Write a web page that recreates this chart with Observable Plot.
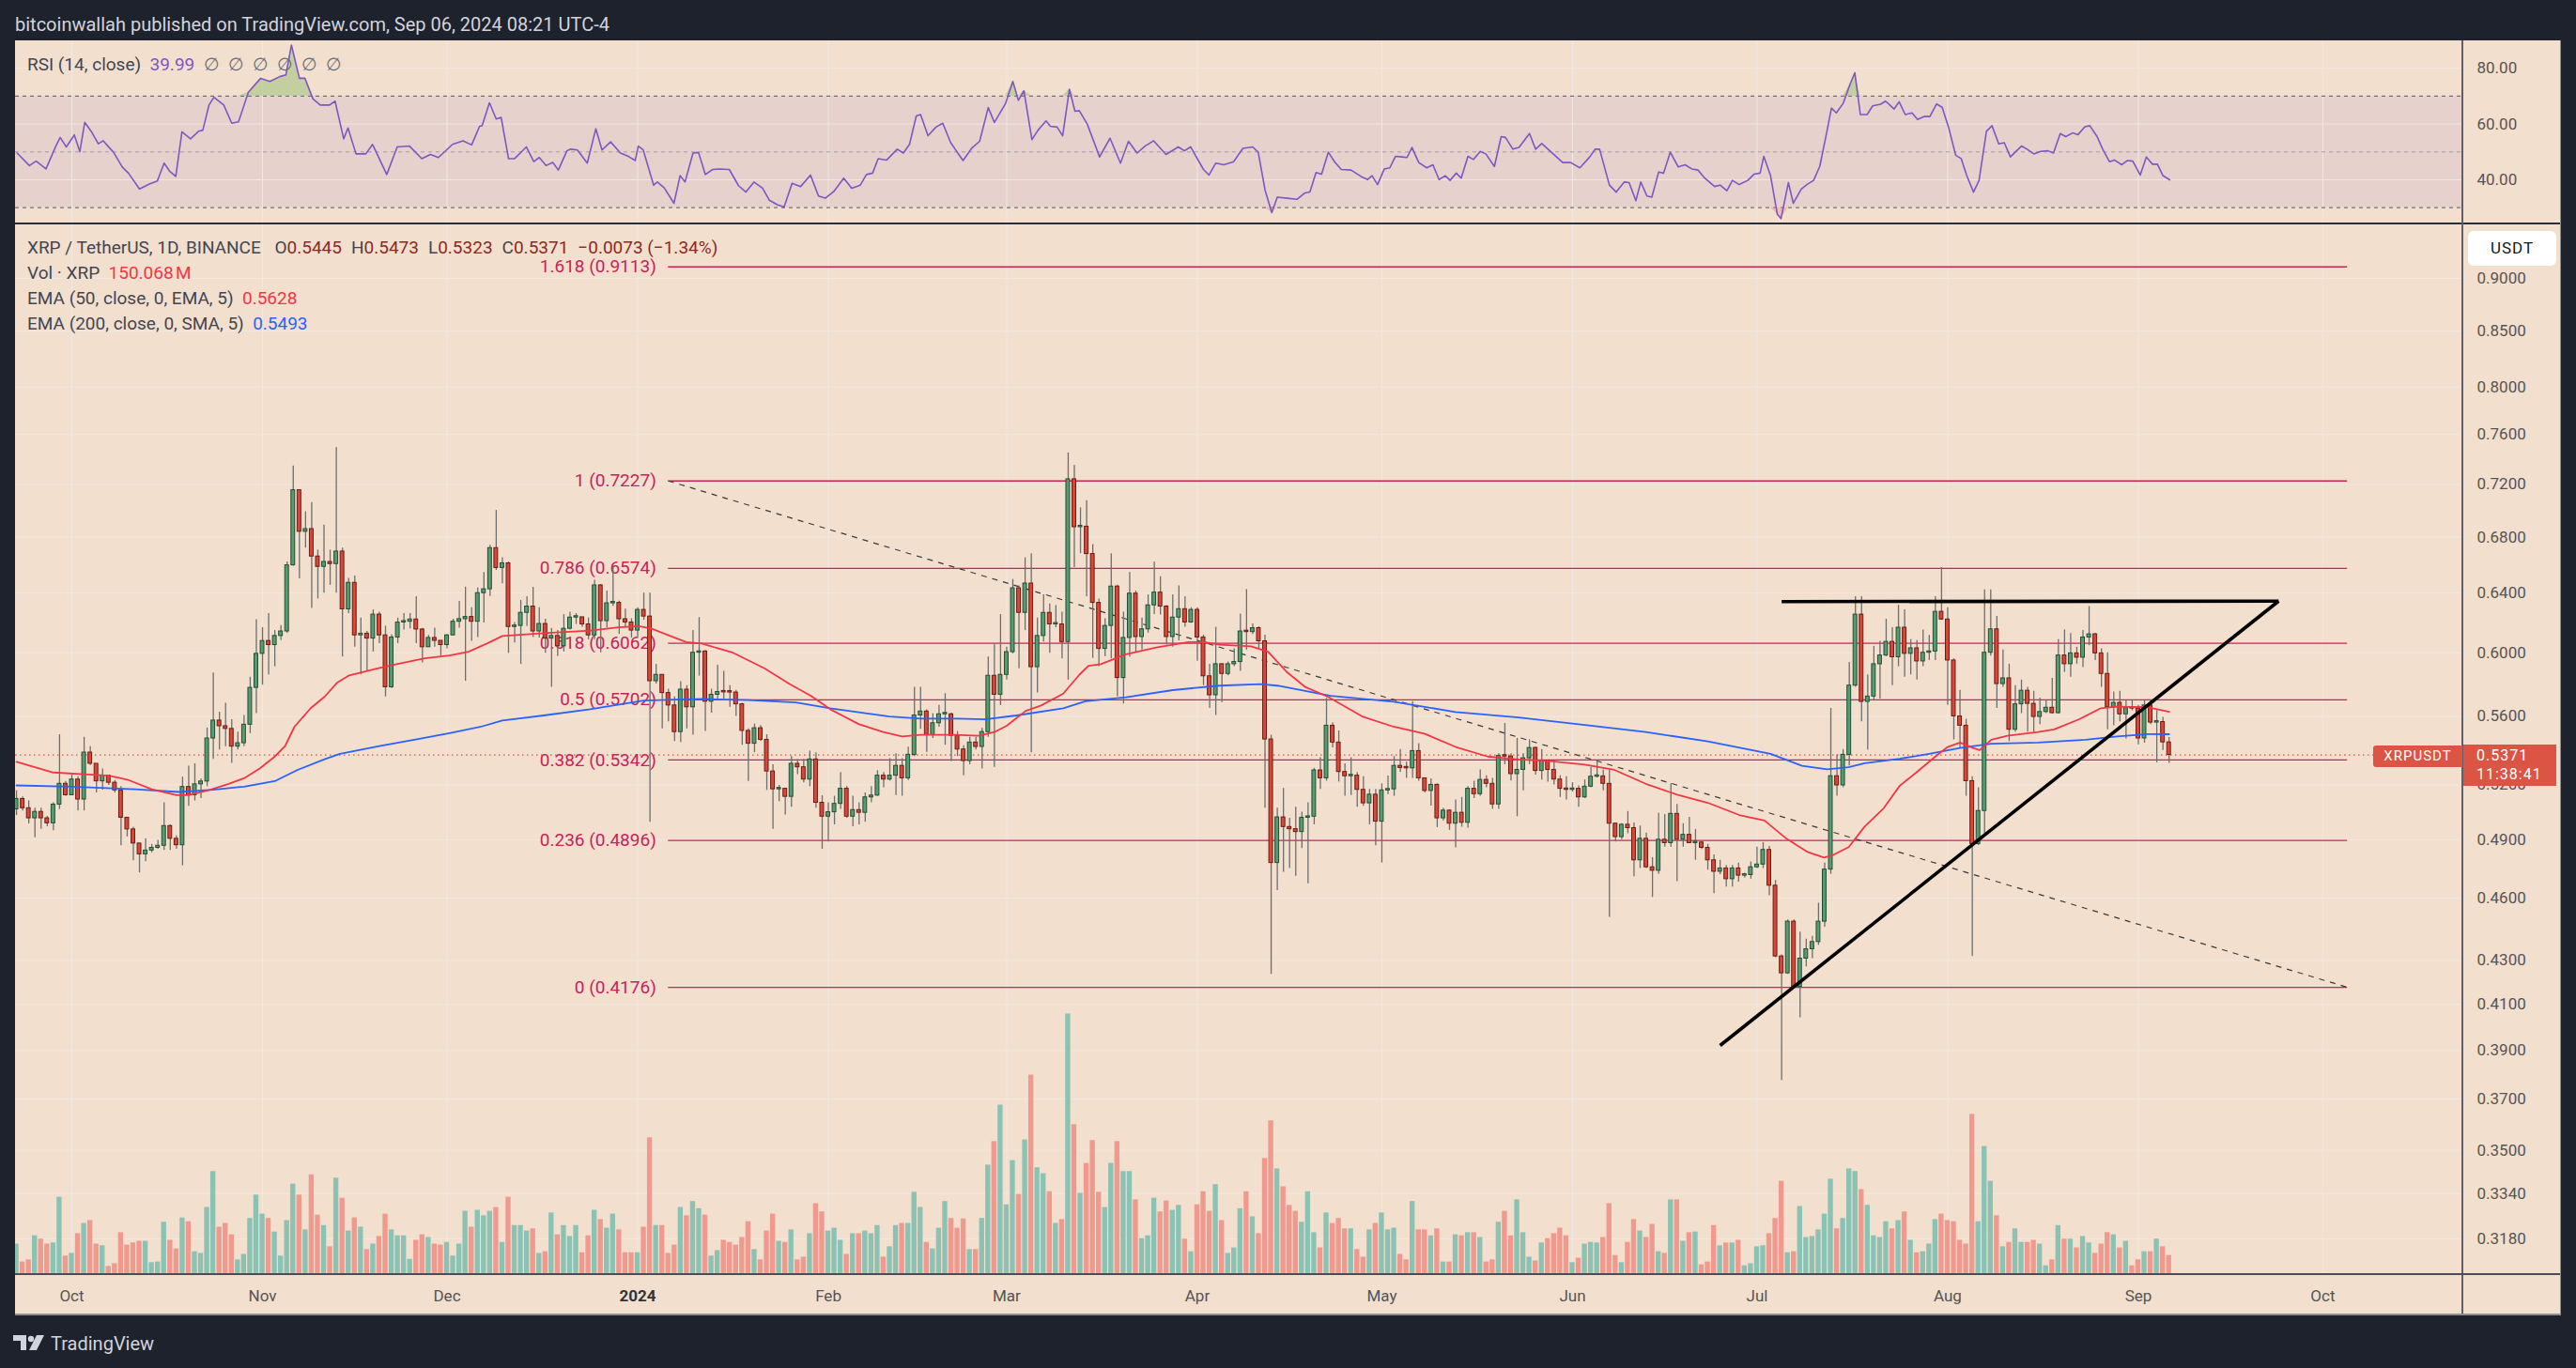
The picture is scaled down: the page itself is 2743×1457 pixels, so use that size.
<!DOCTYPE html>
<html>
<head>
<meta charset="utf-8">
<script src="https://cdn.jsdelivr.net/npm/d3@7"></script>
<script src="https://cdn.jsdelivr.net/npm/@observablehq/plot@0.6"></script>
<style>
  html, body { margin:0; padding:0; background:#1e222d; }
  #root { position:relative; width:2743px; height:1457px; background:#1e222d; overflow:hidden;
          font-family: Roboto, "Noto Sans", "Liberation Sans", sans-serif; }
  .abs { position:absolute; }
  .layer svg { display:block; max-width:none; }
  .leg { position:absolute; left:29px; height:26px; line-height:26px; font-size:19px; color:#434651; white-space:nowrap; }
  .leg .v { color:#8c2a1e; }
  .leg .sp { display:inline-block; width:10px; }
</style>
</head>
<body>
<div id="root"></div>
<script>
// ================= DATA =================
const ORIGIN = "2023-10-01";          // day 0
const firstCandleDay = -9;            // first candle: 2023-09-22
const firstOpen = 0.5064;

const closes = [
0.5121,0.5070,0.5015,0.5050,0.5015,0.4988,0.5090,0.5206,0.5142,0.5230,
0.5118,0.5385,0.5320,0.5220,0.5252,0.5212,0.5169,0.5018,0.4955,0.4880,
0.4823,0.4843,0.4857,0.4868,0.4973,0.4905,0.4871,0.5188,0.5142,0.5203,
0.5219,0.5468,0.5575,0.5541,0.5525,0.5420,0.5440,0.5550,0.5776,0.5993,
0.6077,0.6050,0.6110,0.6140,0.6596,0.7155,0.6840,0.6860,0.6659,0.6585,
0.6620,0.6605,0.6695,0.6289,0.6472,0.6114,0.6125,0.6093,0.6253,0.6114,
0.5780,0.6100,0.6200,0.6205,0.6220,0.6153,0.6036,0.6097,0.6078,0.6050,
0.6114,0.6205,0.6222,0.6237,0.6205,0.6400,0.6427,0.6720,0.6577,0.6610,
0.6170,0.6177,0.6265,0.6308,0.6140,0.6190,0.6093,0.6110,0.6042,0.6158,
0.6233,0.6235,0.6187,0.6114,0.6454,0.6209,0.6330,0.6333,0.6222,0.6200,
0.6146,0.6285,0.6240,0.5818,0.5858,0.5744,0.5667,0.5506,0.5765,0.5656,
0.6000,0.6008,0.5690,0.5733,0.5750,0.5748,0.5747,0.5674,0.5513,0.5437,
0.5529,0.5460,0.5276,0.5175,0.5178,0.5133,0.5320,0.5300,0.5230,0.5345,
0.5100,0.5024,0.5048,0.5094,0.5178,0.5024,0.5060,0.5045,0.5130,0.5140,
0.5252,0.5230,0.5252,0.5308,0.5237,0.5372,0.5606,0.5630,0.5488,0.5559,
0.5613,0.5613,0.5484,0.5403,0.5336,0.5444,0.5418,0.5506,0.5852,0.5733,
0.5858,0.6004,0.6434,0.6265,0.6467,0.5907,0.6110,0.6265,0.6187,0.6187,
0.6070,0.7240,0.6874,0.6878,0.6677,0.6333,0.6025,0.6177,0.6446,0.5838,
0.6097,0.6397,0.6103,0.6154,0.6316,0.6404,0.6308,0.6103,0.6233,0.6290,
0.6200,0.6285,0.6100,0.5849,0.5730,0.5926,0.5864,0.5926,0.5940,0.6140,
0.6136,0.6162,0.6075,0.5462,0.4778,0.5020,0.4968,0.4956,0.4941,0.5018,
0.5024,0.5282,0.5237,0.5544,0.5444,0.5273,0.5249,0.5252,0.5172,0.5097,
0.5145,0.4997,0.5169,0.5175,0.5308,0.5296,0.5294,0.5394,0.5237,0.5166,
0.5200,0.5015,0.5057,0.4986,0.5045,0.4991,0.5178,0.5148,0.5228,0.5206,
0.5091,0.5365,0.5362,0.5261,0.5285,0.5352,0.5412,0.5279,0.5336,0.5285,
0.5230,0.5178,0.5172,0.5178,0.5130,0.5190,0.5246,0.5248,0.5206,0.4986,
0.4914,0.4980,0.4962,0.4792,0.4905,0.4756,0.4738,0.4900,0.4882,0.5039,
0.4900,0.4926,0.4882,0.4885,0.4857,0.4792,0.4733,0.4750,0.4695,0.4750,
0.4713,0.4716,0.4756,0.4770,0.4846,0.4662,0.4318,0.4240,0.4484,0.4178,
0.4308,0.4352,0.4386,0.4484,0.4744,0.5249,0.5197,0.5372,0.5790,0.6253,
0.5689,0.5722,0.5926,0.5982,0.6071,0.5971,0.6165,0.5993,0.6029,0.5944,
0.6000,0.6008,0.6272,0.6220,0.5950,0.5600,0.5544,0.5221,0.4877,0.5055,
0.6000,0.6154,0.5800,0.5836,0.5520,0.5674,0.5758,0.5677,0.5597,0.5627,
0.5653,0.5620,0.5982,0.5926,0.5996,0.5968,0.6100,0.6121,0.5996,0.5864,
0.5656,0.5683,0.5613,0.5650,0.5648,0.5468,0.5667,0.5563,0.5566,0.5445,
0.5371];

const highs = [
0.5167,0.5133,0.5110,0.5070,0.5070,0.5025,0.5100,0.5490,0.5220,0.5258,
0.5246,0.5475,0.5420,0.5320,0.5290,0.5252,0.5225,0.5190,0.5018,0.4967,
0.4880,0.4905,0.4875,0.4897,0.5100,0.4980,0.4920,0.5244,0.5306,0.5320,
0.5234,0.5530,0.5870,0.5626,0.5680,0.5580,0.5506,0.5606,0.5843,0.6218,
0.6165,0.6260,0.6146,0.6180,0.6620,0.7345,0.7155,0.6990,0.7060,0.6705,
0.6890,0.6705,0.7493,0.6720,0.6504,0.6520,0.6230,0.6140,0.6285,0.6270,
0.6175,0.6118,0.6230,0.6260,0.6260,0.6375,0.6160,0.6114,0.6162,0.6078,
0.6120,0.6222,0.6343,0.6442,0.6300,0.6436,0.6545,0.6740,0.7000,0.6650,
0.6620,0.6200,0.6350,0.6375,0.6440,0.6300,0.6222,0.6160,0.6146,0.6253,
0.6270,0.6260,0.6235,0.6230,0.6490,0.6460,0.6415,0.6580,0.6345,0.6290,
0.6225,0.6300,0.6400,0.6400,0.5926,0.5860,0.5768,0.5720,0.5815,0.5790,
0.6146,0.6233,0.6015,0.5768,0.5920,0.5880,0.5790,0.5760,0.5680,0.5525,
0.5554,0.5545,0.5490,0.5315,0.5197,0.5175,0.5362,0.5345,0.5345,0.5394,
0.5384,0.5139,0.5100,0.5136,0.5270,0.5190,0.5136,0.5100,0.5155,0.5190,
0.5280,0.5270,0.5350,0.5378,0.5350,0.5417,0.5780,0.5780,0.5640,0.5617,
0.5667,0.5740,0.5620,0.5510,0.5425,0.5475,0.5475,0.5528,0.5972,0.6053,
0.6253,0.6036,0.6496,0.6450,0.6650,0.6680,0.6230,0.6388,0.6325,0.6315,
0.6270,0.7450,0.7350,0.7020,0.7075,0.6745,0.6360,0.6225,0.6680,0.6455,
0.6270,0.6545,0.6415,0.6230,0.6388,0.6620,0.6515,0.6315,0.6388,0.6450,
0.6375,0.6300,0.6300,0.6115,0.5926,0.6168,0.5930,0.5940,0.6025,0.6257,
0.6425,0.6190,0.6172,0.6115,0.5487,0.5070,0.5180,0.5015,0.5076,0.5048,
0.5100,0.5294,0.5355,0.5712,0.5560,0.5513,0.5320,0.5355,0.5270,0.5246,
0.5175,0.5175,0.5206,0.5250,0.5362,0.5403,0.5330,0.5690,0.5437,0.5237,
0.5234,0.5206,0.5070,0.5060,0.5115,0.5130,0.5190,0.5221,0.5285,0.5252,
0.5237,0.5378,0.5557,0.5378,0.5468,0.5378,0.5460,0.5418,0.5403,0.5336,
0.5336,0.5252,0.5246,0.5212,0.5194,0.5228,0.5300,0.5336,0.5285,0.5282,
0.4986,0.4986,0.5052,0.4990,0.4973,0.4935,0.4806,0.5042,0.5036,0.5206,
0.5091,0.4986,0.5020,0.4955,0.4890,0.4875,0.4820,0.4792,0.4765,0.4765,
0.4778,0.4725,0.4783,0.4861,0.4885,0.4865,0.4689,0.4325,0.4492,0.4492,
0.4433,0.4400,0.4413,0.4575,0.4778,0.5649,0.5372,0.5403,0.5937,0.6375,
0.6375,0.5858,0.6042,0.6075,0.6222,0.6165,0.6316,0.6285,0.6085,0.6080,
0.6150,0.6114,0.6375,0.6580,0.6300,0.5960,0.5761,0.5583,0.5246,0.5184,
0.6422,0.6422,0.6241,0.6018,0.5926,0.5790,0.5825,0.5780,0.5755,0.5712,
0.5700,0.5836,0.6085,0.6150,0.6126,0.6036,0.6146,0.6308,0.6128,0.6025,
0.6000,0.5750,0.5755,0.5700,0.5700,0.5667,0.5694,0.5700,0.5635,0.5594,
0.5473];

const lows = [
0.5030,0.5055,0.4985,0.4910,0.4955,0.4970,0.4948,0.5063,0.5136,0.5140,
0.5055,0.5055,0.5310,0.5155,0.5170,0.5197,0.5155,0.4868,0.4915,0.4790,
0.4727,0.4785,0.4831,0.4850,0.4843,0.4843,0.4850,0.4764,0.5080,0.5110,
0.5124,0.5190,0.5346,0.5400,0.5420,0.5323,0.5400,0.5420,0.5497,0.5617,
0.5793,0.5858,0.5910,0.6080,0.6127,0.6590,0.6500,0.6720,0.6295,0.6360,
0.6400,0.6455,0.6400,0.5972,0.6260,0.6036,0.5858,0.5880,0.6005,0.6060,
0.5720,0.5773,0.6060,0.6150,0.6157,0.6060,0.5935,0.6046,0.6036,0.5978,
0.6025,0.6114,0.6162,0.5818,0.6075,0.6100,0.6196,0.6378,0.6560,0.6465,
0.5996,0.6064,0.5925,0.6173,0.6100,0.6097,0.5996,0.5780,0.5975,0.6005,
0.6150,0.6187,0.6168,0.6085,0.6085,0.6000,0.6162,0.6310,0.6121,0.6168,
0.6097,0.6093,0.6215,0.4994,0.5800,0.5525,0.5568,0.5450,0.5444,0.5525,
0.5488,0.5850,0.5510,0.5620,0.5700,0.5705,0.5656,0.5600,0.5428,0.5219,
0.5384,0.5450,0.5169,0.4955,0.5106,0.5033,0.5076,0.5258,0.5212,0.5190,
0.5070,0.4850,0.4888,0.4980,0.5064,0.5015,0.4970,0.4980,0.4994,0.5100,
0.5136,0.5184,0.5222,0.5140,0.5136,0.5225,0.5362,0.5522,0.5387,0.5468,
0.5535,0.5428,0.5333,0.5362,0.5252,0.5315,0.5400,0.5290,0.5475,0.5300,
0.5667,0.5825,0.5993,0.5897,0.6146,0.5384,0.5744,0.6070,0.5996,0.6165,
0.5960,0.5825,0.6580,0.6680,0.6375,0.5964,0.5910,0.5975,0.5960,0.5721,
0.5676,0.5972,0.6000,0.6018,0.6130,0.6253,0.6250,0.6050,0.6036,0.6078,
0.6168,0.6195,0.5945,0.5790,0.5649,0.5606,0.5685,0.5852,0.5910,0.5880,
0.6018,0.6120,0.6029,0.5070,0.4235,0.4638,0.4730,0.4750,0.4710,0.4853,
0.4672,0.4980,0.5175,0.5221,0.5412,0.5216,0.5136,0.5140,0.5076,0.5080,
0.4980,0.4868,0.4778,0.5145,0.5136,0.5270,0.5237,0.5237,0.5221,0.5155,
0.5082,0.4965,0.5000,0.4950,0.4857,0.4967,0.4962,0.5124,0.5136,0.5184,
0.5064,0.5064,0.5315,0.5222,0.5024,0.5166,0.5315,0.5255,0.5228,0.5216,
0.5200,0.5130,0.5115,0.5160,0.5076,0.5124,0.5184,0.5240,0.5166,0.4505,
0.4888,0.4900,0.4932,0.4707,0.4750,0.4750,0.4603,0.4720,0.4861,0.4861,
0.4683,0.4861,0.4882,0.4792,0.4848,0.4741,0.4622,0.4718,0.4655,0.4655,
0.4680,0.4700,0.4695,0.4750,0.4750,0.4611,0.4312,0.3775,0.4235,0.4170,
0.4040,0.4270,0.4308,0.4370,0.4457,0.4720,0.5136,0.5184,0.5308,0.5780,
0.5568,0.5400,0.5700,0.5707,0.5975,0.5790,0.5910,0.5843,0.5858,0.5825,
0.5910,0.5950,0.5950,0.6215,0.5667,0.5460,0.5412,0.5136,0.4318,0.4870,
0.4923,0.5978,0.5649,0.5780,0.5450,0.5506,0.5617,0.5506,0.5506,0.5550,
0.5617,0.5615,0.5615,0.5874,0.5843,0.5926,0.5904,0.6046,0.5950,0.5780,
0.5520,0.5544,0.5568,0.5465,0.5635,0.5431,0.5440,0.5550,0.5326,0.5397,
0.5323];

// volume in millions of XRP
const volumesM = [
240,99,116,305,279,240,249,609,146,167,
322,403,425,240,227,64,86,330,232,249,
262,262,94,99,412,270,202,446,416,180,
167,528,811,373,403,313,116,159,442,626,
476,442,335,146,425,712,626,352,785,468,
386,219,759,601,343,446,373,197,240,300,
476,352,305,305,120,270,313,292,240,232,
253,146,240,498,373,506,463,498,528,253,
609,386,386,343,360,167,180,485,313,386,
300,386,172,305,506,433,365,476,352,172,
172,172,373,1077,386,386,167,232,528,463,
575,519,468,146,189,270,253,232,292,416,
197,116,343,476,262,253,352,116,137,322,
558,493,343,365,270,159,322,322,343,322,
386,137,219,386,403,403,648,528,253,202,
365,575,442,365,438,197,197,442,862,1047,
1334,549,897,631,1060,1570,841,794,652,403,
433,2051,1180,639,875,1055,648,528,875,1047,
811,811,588,283,305,601,493,579,506,545,
279,180,549,652,498,708,425,167,210,519,
652,455,322,914,1210,832,691,545,498,412,
652,330,210,485,403,442,360,360,197,137,
352,403,485,352,365,159,116,575,352,352,
305,360,99,99,313,305,330,330,292,99,
116,412,498,305,588,330,137,107,249,283,
322,365,305,94,129,240,253,249,292,558,
150,94,253,433,343,292,395,180,167,588,
588,262,330,335,77,99,386,227,249,249,
270,69,86,219,227,322,442,734,172,180,
536,292,300,352,476,751,360,442,832,811,
669,545,305,292,416,360,425,493,270,172,
180,240,433,476,425,416,270,240,1261,416,
1008,734,463,219,253,360,253,253,270,240,
69,116,386,279,279,210,300,249,167,240,
330,313,210,262,69,116,180,180,279,219,
150.068];

// [day offset from ORIGIN, value]
const ema50 = [[-9,0.5331],[-3,0.527],[2,0.526],[6,0.5252],[9,0.523],[13,0.5175],[17,0.5142],[19,0.5142],[22.5,0.5172],[25.5,0.5206],[28,0.5237],[30.6,0.5294],[33,0.5362],[34.7,0.5425],[36.2,0.5538],[38.8,0.5649],[41.1,0.5721],[43.1,0.5807],[45.1,0.5855],[50.2,0.5904],[52.8,0.5926],[57.4,0.5964],[61.4,0.5982],[64.5,0.6007],[67.5,0.606],[70,0.611],[76.7,0.6128],[84.3,0.6146],[88.9,0.6168],[92.2,0.6175],[94.3,0.6158],[97.3,0.611],[99.9,0.607],[102.4,0.606],[107.5,0.6],[112.6,0.59],[116.7,0.58],[120.2,0.5726],[123.3,0.5644],[127.9,0.5554],[131.9,0.5506],[135,0.548],[138,0.549],[143.4,0.549],[147.5,0.5484],[150,0.5506],[152,0.5544],[155.1,0.5634],[157.6,0.5667],[161.2,0.574],[163.8,0.5858],[165.3,0.5916],[167.3,0.5926],[171.4,0.599],[176.5,0.6036],[181.6,0.607],[184.1,0.607],[186.6,0.6053],[191.7,0.6042],[194.5,0.6007],[197.6,0.5874],[200.6,0.578],[204.2,0.5721],[209.8,0.56],[214.9,0.5538],[219.9,0.5497],[225,0.5418],[230.2,0.5362],[235.2,0.5345],[240.3,0.5336],[246,0.5315],[250.8,0.5285],[255.9,0.5206],[261,0.5145],[266,0.51],[271.1,0.5033],[275.2,0.5003],[278.8,0.4905],[282.3,0.4834],[284.9,0.4806],[286.4,0.482],[288.9,0.4861],[291.5,0.497],[294.6,0.507],[297.2,0.5195],[299.9,0.527],[303,0.5362],[305,0.5418],[307,0.5444],[309.1,0.5412],[310.2,0.54],[312.1,0.546],[314.7,0.5484],[319.7,0.5506],[322.3,0.5522],[326.4,0.5583],[329.9,0.565],[332.5,0.566],[337.6,0.5656],[341,0.5628]];

const ema200 = [[-9,0.5197],[0,0.519],[10.3,0.5175],[17.4,0.516],[23,0.5172],[28,0.519],[33,0.5221],[36.7,0.5285],[41.1,0.5346],[43.6,0.5378],[50.2,0.5425],[56.3,0.5465],[61.4,0.55],[66.5,0.5538],[70,0.5575],[76.7,0.5606],[84.3,0.5644],[93,0.5697],[102.4,0.5707],[110,0.57],[117.7,0.5686],[123.3,0.565],[132.9,0.56],[138,0.5587],[144,0.5587],[148.5,0.5583],[153.6,0.5606],[161.2,0.565],[164.8,0.5693],[171.4,0.5717],[179,0.5762],[186.6,0.579],[193.3,0.58],[196,0.579],[204.7,0.5726],[214.9,0.569],[225,0.5627],[235.2,0.5594],[246,0.5548],[255.9,0.5506],[266,0.5451],[276.2,0.5378],[281.3,0.5308],[285.4,0.5288],[288.9,0.53],[291.5,0.5323],[297.2,0.5349],[302,0.5378],[307,0.5412],[312.1,0.5437],[319.7,0.5444],[327.4,0.546],[332.5,0.548],[337.6,0.5494],[341,0.5493]];

const rsi14 = [[-8.9,49.6],[-6.9,45.1],[-5.8,46.7],[-4.2,43.9],[-2.6,52.1],[-1.9,55.2],[-0.9,51.8],[0.4,56.1],[1.3,50.1],[2.1,60.6],[3.2,57.2],[4.3,52.9],[5.1,54.0],[6.8,49.8],[8.2,44.6],[9.2,42.4],[11.0,36.7],[12.6,38.5],[13.9,39.6],[15.0,46.0],[15.9,43.1],[16.9,41.2],[17.9,57.2],[19.3,54.7],[20.6,57.4],[21.3,57.8],[22.3,66.8],[23.1,69.6],[24.7,66.8],[26.0,60.3],[27.1,60.8],[28.7,71.4],[30.7,76.4],[32.2,75.3],[33.8,77.0],[34.8,77.6],[35.7,88.3],[37.0,76.4],[37.9,76.4],[39.2,69.0],[40.4,66.8],[41.9,66.8],[42.8,68.2],[44.2,54.7],[44.9,58.6],[46.2,49.3],[47.8,49.3],[48.9,52.7],[51.2,41.9],[52.9,51.8],[54.9,52.1],[56.9,47.6],[58.3,49.1],[59.6,48.0],[61.9,52.7],[63.6,54.0],[65.0,52.5],[66.3,59.2],[66.7,59.4],[67.9,67.6],[69.0,61.8],[69.8,62.4],[71.0,47.6],[72.0,47.6],[73.9,51.8],[75.1,46.5],[76.0,48.0],[77.1,45.1],[78.2,46.2],[79.1,43.5],[80.5,50.4],[81.1,51.0],[82.2,50.7],[83.8,46.0],[85.2,58.3],[86.2,50.7],[87.6,53.6],[89.2,49.6],[90.5,48.4],[91.6,46.9],[92.1,52.1],[92.9,50.7],[94.6,38.1],[95.2,39.2],[96.3,37.2],[97.9,31.6],[98.9,41.5],[99.7,39.2],[101.0,49.6],[101.9,49.8],[103.0,41.9],[104.2,43.7],[105.3,43.9],[106.9,43.7],[108.4,37.9],[109.6,35.6],[110.9,39.2],[112.3,37.0],[113.4,32.7],[114.7,31.1],[115.8,30.2],[117.1,38.7],[118.5,37.6],[120.1,41.7],[121.4,34.2],[122.5,33.4],[123.9,35.8],[125.5,40.6],[126.8,37.0],[128.2,38.1],[129.2,41.9],[130.2,42.4],[131.1,47.6],[132.5,47.1],[134.2,51.0],[135.2,49.6],[136.2,52.7],[137.3,62.9],[138.0,63.4],[139.2,55.8],[140.5,58.9],[141.6,60.3],[142.9,53.3],[144.9,46.9],[146.3,51.3],[147.6,53.8],[149.0,65.9],[150.0,60.6],[151.8,67.3],[153.0,75.3],[153.9,68.5],[154.8,71.9],[156.1,54.4],[157.1,57.8],[158.4,61.1],[159.1,59.2],[160.2,58.9],[161.1,55.8],[162.2,72.5],[163.1,64.6],[163.8,64.8],[165.1,60.0],[167.1,48.2],[168.8,54.9],[170.5,46.0],[171.8,53.8],[173.2,49.6],[174.5,52.1],[175.9,54.0],[177.9,49.1],[179.9,51.8],[180.9,50.4],[181.9,51.8],[184.0,43.7],[184.9,41.7],[186.0,46.0],[187.3,45.4],[188.9,46.5],[190.4,51.3],[192.0,51.8],[192.9,49.9],[194.0,36.4],[195.1,28.2],[196.0,33.8],[197.6,33.4],[199.2,33.0],[200.5,35.3],[201.3,35.6],[202.3,42.6],[203.2,42.0],[204.3,49.9],[205.3,46.5],[206.4,43.7],[208.0,43.5],[209.6,41.2],[210.7,40.1],[211.4,41.5],[212.3,38.3],[213.4,43.9],[214.3,44.3],[215.2,48.4],[216.3,48.2],[217.1,48.0],[217.9,51.6],[219.0,46.2],[220.3,44.3],[221.3,45.4],[222.3,40.1],[223.3,41.5],[224.1,39.8],[225.1,42.4],[225.9,40.6],[227.0,48.4],[227.9,47.3],[229.0,50.2],[229.9,49.3],[231.3,44.8],[232.4,55.5],[233.1,55.2],[234.3,51.0],[235.3,51.6],[237.0,56.6],[238.0,51.0],[239.0,53.0],[240.4,50.2],[242.4,46.2],[243.7,46.2],[245.2,44.3],[246.8,48.2],[247.7,51.0],[248.4,51.0],[250.0,38.1],[251.1,35.6],[252.4,39.2],[253.2,39.0],[254.3,32.5],[255.1,39.2],[256.1,34.2],[256.9,33.8],[258.0,42.8],[258.8,42.4],[259.9,49.9],[261.2,44.6],[262.3,45.4],[263.4,43.9],[264.4,43.5],[265.5,40.6],[267.1,37.6],[268.0,38.1],[269.1,36.1],[270.0,39.8],[271.1,38.3],[272.5,39.8],[273.5,42.0],[274.5,42.4],[275.1,48.4],[276.2,41.5],[277.3,27.6],[277.9,26.1],[279.1,39.0],[279.9,31.6],[281.2,36.7],[282.1,38.3],[283.2,39.8],[284.2,44.8],[285.3,56.6],[286.1,65.7],[286.9,64.0],[288.0,67.4],[289.2,74.7],[289.9,78.4],[290.8,63.4],[291.9,63.4],[292.8,66.5],[294.1,67.1],[294.9,68.2],[296.3,65.4],[297.1,68.0],[298.1,63.4],[299.2,64.0],[300.1,61.6],[301.2,62.7],[302.1,62.7],[303.2,67.2],[304.1,66.0],[305.2,58.4],[306.3,48.8],[307.2,47.6],[308.1,41.5],[309.2,35.6],[310.1,39.8],[311.3,57.4],[312.2,59.4],[313.3,52.9],[314.2,53.3],[315.2,48.2],[316.2,50.4],[317.0,52.1],[317.9,51.0],[319.0,49.3],[320.1,50.2],[321.3,50.4],[322.2,49.6],[323.3,56.6],[324.2,55.5],[325.3,56.8],[326.2,56.2],[327.3,59.0],[328.1,59.4],[329.3,55.5],[330.2,51.0],[331.3,46.5],[332.1,47.1],[333.3,45.4],[334.2,46.9],[335.1,46.7],[336.3,41.7],[337.3,48.2],[338.3,45.6],[339.1,45.6],[340.0,41.5],[341.1,39.99]];

const rsiLevels = [30, 50, 70];
const rsiTicks = [80, 60, 40];
const priceTicks = [0.9, 0.85, 0.8, 0.76, 0.72, 0.68, 0.64, 0.6, 0.56, 0.52, 0.49, 0.46, 0.43, 0.41, 0.39, 0.37, 0.35, 0.334, 0.318];
const xTicks = ["2023-10-01","2023-11-01","2023-12-01","2024-01-01","2024-02-01","2024-03-01","2024-04-01","2024-05-01","2024-06-01","2024-07-01","2024-08-01","2024-09-01","2024-10-01"];
const xTickLabels = ["Oct","Nov","Dec","2024","Feb","Mar","Apr","May","Jun","Jul","Aug","Sep","Oct"];

const fibLevels = [1.618, 1, 0.786, 0.618, 0.5, 0.382, 0.236, 0];
const fibPrices = [0.9113, 0.7227, 0.6574, 0.6062, 0.5702, 0.5342, 0.4896, 0.4176];
const fibSpanDays = [97, 370];
// [startDay, startPrice, endDay, endPrice]
const fibDiagonal = [97, 0.7227, 370, 0.4176];
const blackLines = [[268, 0.3921, 358.8, 0.6345], [278, 0.6342, 358.8, 0.6345]];
const lastPrice = 0.5371;

// ================= BUILD =================
const root = document.getElementById("root");
const DAY = 864e5, T0 = Date.parse(ORIGIN);
const toDate = d => new Date(T0 + d * DAY);
const FONT = 'Roboto, "Noto Sans", "Liberation Sans", sans-serif';
const PANE_L = 16, PANE_W = 2711, AXIS_W = 105;
const xDomain = [toDate(-9.162), toDate(388.76)];
const GRID = "#f0e8e3";
const FIB = "#c8235a";
const BG = "#f2dfce";

function addDiv(style, html) {
  const d = document.createElement("div");
  d.className = "abs";
  Object.assign(d.style, style);
  if (html != null) d.innerHTML = html;
  root.appendChild(d);
  return d;
}
function mount(svg, left, top, width) {
  const d = addDiv({left: left + "px", top: top + "px", width: width + "px"});
  d.classList.add("layer");
  d.appendChild(svg);
}

// background panes
addDiv({left: PANE_L + "px", top: "43px", width: PANE_W + "px", height: "1357px", background: BG});
addDiv({left: "16px", top: "11px", fontSize: "20px", lineHeight: "30px", color: "#d1d4dc", whiteSpace: "nowrap"},
  "bitcoinwallah published on TradingView.com, Sep 06, 2024 08:21 UTC-4");

const candles = closes.map((c, i) => {
  const o = i ? closes[i - 1] : firstOpen;
  const d = firstCandleDay + i;
  const lo = Math.min(o, c), hi = Math.max(o, c);
  return {
    date: toDate(d), x1: toDate(d - 0.3), x2: toDate(d + 0.3),
    vx1: toDate(d - 0.41), vx2: toDate(d + 0.41),
    open: o, close: c,
    high: Math.max(highs[i], hi), low: Math.min(lows[i], lo),
    bodyLo: lo, bodyHi: Math.max(hi, lo * 1.0015),
    up: c >= o, vol: volumesM[i]
  };
});

const xTickDates = xTicks.map(s => new Date(s));
const fmtX = d => xTickLabels[xTickDates.findIndex(t => +t === +d)];

// ---------- RSI pane ----------
const rsiPts = rsi14.map(([d, v]) => ({date: toDate(d), v}));
const rsiPlot = Plot.plot({
  width: PANE_W, height: 195, marginLeft: 0, marginRight: AXIS_W, marginTop: 0, marginBottom: 0,
  x: {type: "utc", domain: xDomain, axis: null, label: null},
  y: {domain: [24.18, 89.83], axis: null, label: null},
  style: {background: "transparent", color: "#555", fontFamily: FONT},
  marks: [
    Plot.rect([{x1: xDomain[0], x2: xDomain[1], y1: rsiLevels[0], y2: rsiLevels[2]}],
      {x1: "x1", x2: "x2", y1: "y1", y2: "y2", fill: "#7e57c2", fillOpacity: 0.1}),
    Plot.gridX(xTickDates, {stroke: GRID, strokeOpacity: 1}),
    Plot.gridY(rsiTicks, {stroke: GRID, strokeOpacity: 1}),
    Plot.ruleY([rsiLevels[0], rsiLevels[2]], {stroke: "#6f7280", strokeDasharray: "4,4", strokeWidth: 1.2}),
    Plot.ruleY([rsiLevels[1]], {stroke: "#8f929c", strokeOpacity: 0.8, strokeDasharray: "4,4"}),
    Plot.areaY(rsiPts, {x: "date", y1: rsiLevels[2], y2: d => Math.max(d.v, rsiLevels[2]), fill: "#a3c484", fillOpacity: 0.6}),
    Plot.areaY(rsiPts, {x: "date", y1: d => Math.min(d.v, rsiLevels[0]), y2: rsiLevels[0], fill: "#e99a9a", fillOpacity: 0.5}),
    Plot.line(rsiPts, {x: "date", y: "v", stroke: "#7e57c2", strokeWidth: 1.6}),
    Plot.axisY(rsiTicks, {anchor: "right", tickSize: 0, tickPadding: 15, tickFormat: d3.format(".2f"), fontSize: 17, label: null})
  ]
});
mount(rsiPlot, PANE_L, 43, PANE_W);

// ---------- main price pane: base (grid, axes, fib) ----------
const yScale = {type: "log", domain: [0.30594, 0.95469], axis: null, label: null};
const xScale = {type: "utc", domain: xDomain, axis: null, label: null};
const MAIN_H = 1162, MAIN_MB = 43;
const fibs = fibLevels.map((lv, i) => ({
  price: fibPrices[i], x1: toDate(fibSpanDays[0]), x2: toDate(fibSpanDays[1]),
  label: `${lv} (${fibPrices[i].toFixed(4)})`
}));
const fibDiag = [{x1: toDate(fibDiagonal[0]), y1: fibDiagonal[1], x2: toDate(fibDiagonal[2]), y2: fibDiagonal[3]}];

const basePlot = Plot.plot({
  width: PANE_W, height: MAIN_H, marginLeft: 0, marginRight: AXIS_W, marginTop: 0, marginBottom: MAIN_MB,
  x: xScale, y: yScale,
  style: {background: "transparent", color: "#555", fontFamily: FONT},
  marks: [
    Plot.gridX(xTickDates, {stroke: GRID, strokeOpacity: 1}),
    Plot.gridY(priceTicks, {stroke: GRID, strokeOpacity: 1}),
    Plot.axisY(priceTicks, {anchor: "right", tickSize: 0, tickPadding: 15, tickFormat: d3.format(".4f"), fontSize: 17, label: null}),
    Plot.axisX(xTickDates, {anchor: "bottom", tickSize: 0, tickPadding: 16, tickFormat: fmtX, fontSize: 17, label: null}),
    Plot.ruleY(fibs, {y: "price", x1: "x1", x2: "x2", stroke: FIB, strokeWidth: 1.3}),
    Plot.text(fibs, {x: "x1", y: "price", text: "label", textAnchor: "end", dx: -13, fill: FIB, fontSize: 19}),
    Plot.link(fibDiag, {x1: "x1", y1: "y1", x2: "x2", y2: "y2", stroke: "#3a3a3a", strokeWidth: 1.2, strokeDasharray: "6,6"})
  ]
});
d3.select(basePlot).selectAll("text").filter(function () { return this.textContent === "2024"; })
  .attr("font-weight", "bold").attr("fill", "#333");
mount(basePlot, PANE_L, 238, PANE_W);

// ---------- volume overlay ----------
const VOL_H = 500, M_PER_PX = 7.39;
const volPlot = Plot.plot({
  width: PANE_W, height: VOL_H, marginLeft: 0, marginRight: AXIS_W, marginTop: 0, marginBottom: 0,
  x: xScale, y: {domain: [0, VOL_H * M_PER_PX], axis: null, label: null},
  color: {type: "identity"},
  style: {background: "transparent"},
  marks: [
    Plot.rect(candles, {x1: "vx1", x2: "vx2", y1: 0, y2: "vol", fill: d => d.up ? "#8cc2b4" : "#f0998f"})
  ]
});
mount(volPlot, PANE_L, 1357 - VOL_H, PANE_W);

// ---------- candles, EMAs, trend lines ----------
const e50 = ema50.map(([d, v]) => ({date: toDate(d), v}));
const e200 = ema200.map(([d, v]) => ({date: toDate(d), v}));
const blk = blackLines.map(([d1, p1, d2, p2]) => ({x1: toDate(d1), y1: p1, x2: toDate(d2), y2: p2}));
const candlePlot = Plot.plot({
  width: PANE_W, height: MAIN_H, marginLeft: 0, marginRight: AXIS_W, marginTop: 0, marginBottom: MAIN_MB,
  x: xScale, y: yScale,
  color: {type: "identity"},
  style: {background: "transparent"},
  marks: [
    Plot.ruleY([lastPrice], {stroke: "#d9503f", strokeDasharray: "1.5,3.5", strokeWidth: 1.2}),
    Plot.ruleX(candles, {x: "date", y1: "low", y2: "high", stroke: "#6e6e6e", strokeWidth: 1.3}),
    Plot.rect(candles, {x1: "x1", x2: "x2", y1: "bodyLo", y2: "bodyHi",
      fill: d => d.up ? "#5a9a73" : "#d6483a", stroke: d => d.up ? "#1f4f33" : "#6e1a12", strokeWidth: 1}),
    Plot.line(e200, {x: "date", y: "v", stroke: "#2962ff", strokeWidth: 1.8}),
    Plot.line(e50, {x: "date", y: "v", stroke: "#f23645", strokeWidth: 1.8}),
    Plot.link(blk, {x1: "x1", y1: "y1", x2: "x2", y2: "y2", stroke: "#000", strokeWidth: 3.6})
  ]
});
mount(candlePlot, PANE_L, 238, PANE_W);

// ---------- frame lines ----------
addDiv({left: "16px", top: "237px", width: PANE_W + "px", height: "2px", background: "#2a2e39"});
addDiv({left: "2621px", top: "43px", width: "2px", height: "1357px", background: "#5d606b"});
addDiv({left: "16px", top: "1356px", width: PANE_W + "px", height: "2px", background: "#4a4d57"});
addDiv({left: "16px", top: "1399px", width: PANE_W + "px", height: "2px", background: "#8e8e8e"});
addDiv({left: "2726px", top: "43px", width: "1px", height: "1357px", background: "#8e8e8e"});

// ---------- legends ----------
addDiv({left: "29px", top: "56px", fontSize: "19px", lineHeight: "26px", color: "#434651", whiteSpace: "nowrap"},
  `RSI (14, close)&nbsp;&nbsp;<span style="color:#7e57c2">${rsi14[rsi14.length - 1][1].toFixed(2)}</span>&nbsp;&nbsp;<span style="color:#6a6d78;letter-spacing:9px">∅∅∅∅∅∅</span>`);
const leg = (top, html) => { const d = addDiv({top: top + "px"}, html); d.className = "leg"; d.style.top = top + "px"; };
leg(251, `XRP / TetherUS, 1D, BINANCE<span class="sp"></span> O<span class="v">0.5445</span><span class="sp"></span>H<span class="v">0.5473</span><span class="sp"></span>L<span class="v">0.5323</span><span class="sp"></span>C<span class="v">${lastPrice.toFixed(4)}</span><span class="sp"></span><span class="v">−0.0073 (−1.34%)</span>`);
leg(278, `Vol · XRP&nbsp;&nbsp;<span style="color:#f23645">${volumesM[volumesM.length - 1].toFixed(3)}\u202FM</span>`);
leg(305, `EMA (50, close, 0, EMA, 5)&nbsp;&nbsp;<span style="color:#f23645">0.5628</span>`);
leg(332, `EMA (200, close, 0, SMA, 5)&nbsp;&nbsp;<span style="color:#2962ff">0.5493</span>`);

// ---------- axis badges ----------
addDiv({left: "2628px", top: "246px", width: "94px", height: "37px", background: "#fff", borderRadius: "6px",
  textAlign: "center", lineHeight: "37px", fontSize: "17px", color: "#131722", letterSpacing: "1px"}, "USDT");
addDiv({left: "2527px", top: "794px", width: "95px", height: "23px", background: "#dc5443", borderRadius: "3px 0 0 3px",
  textAlign: "center", lineHeight: "23px", fontSize: "15px", color: "#fff", letterSpacing: "1px"}, "XRPUSDT");
addDiv({left: "2623px", top: "793px", height: "44px", background: "#dc5443", paddingLeft: "14px",
  fontSize: "16px", lineHeight: "20px", color: "#fff", paddingTop: "2px", boxSizing: "border-box", width: "99px", letterSpacing: "1px"},
  `${lastPrice.toFixed(4)}<br>11:38:41`);

// ---------- footer logo ----------
addDiv({left: "14px", top: "1418px", width: "180px", height: "26px"},
  `<svg width="36" height="22" viewBox="0 0 36 22" style="position:absolute;left:0;top:2px">
     <path d="M0 2h14v16h-6v-10h-8z" fill="#d1d4dc"/>
     <circle cx="19" cy="6" r="3.2" fill="#d1d4dc"/>
     <path d="M25 2h8l-8 16h-8z" fill="#d1d4dc"/>
   </svg>
   <span style="position:absolute;left:40px;top:0;font-size:20px;line-height:26px;color:#d1d4dc">TradingView</span>`);
</script>
</body>
</html>
